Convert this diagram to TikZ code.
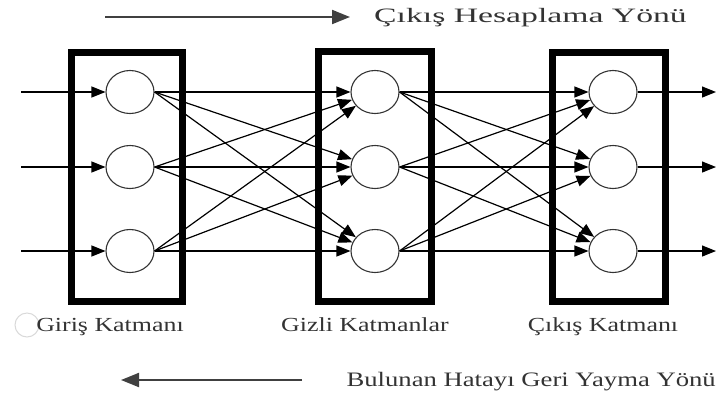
\documentclass[tikz,border=0pt]{standalone}
\usepackage{fontspec}
\setmainfont{Liberation Serif}[FakeStretch=1.3]
\newfontfamily\widefont{Liberation Serif}[FakeStretch=1.65]
\usetikzlibrary{arrows.meta,shapes.geometric}
\tikzset{
  neuron/.style={ellipse, draw=black!80, fill=white, line width=1.1bp,
    minimum width=48bp, minimum height=43bp, inner sep=0pt},
  layerbox/.style={draw, line width=7bp, inner sep=0pt},
  conn/.style={-{Triangle[length=14bp,width=11bp]}, line width=1.2bp},
  dirarrow/.style={-{Triangle[length=18bp,width=14bp]}, line width=2bp, black!75},
  lbl/.style={text=black!80, font=\fontsize{20}{24}\selectfont, inner sep=0pt},
}
\begin{document}
\begin{tikzpicture}[x=1bp,y=-1bp]
  \useasboundingbox (0,0) rectangle (718,396);
  \node[layerbox, minimum width=111bp, minimum height=249bp] (giris) at (127,177) {};
  \node[layerbox, minimum width=113bp, minimum height=250bp] (gizli) at (375,176) {};
  \node[layerbox, minimum width=113bp, minimum height=249bp] (cikis) at (609,176.5) {};
  \foreach \n/\y in {1/92,2/167,3/251} {
    \node[neuron] (i\n) at (130,\y) {};
    \node[neuron] (h\n) at (375,\y) {};
    \node[neuron] (o\n) at (613,\y) {};
    \coordinate (in\n) at (21,\y);
    \coordinate (out\n) at (716,\y);
    \draw[conn] (in\n) -- (i\n);
    \draw[conn] (o\n) -- (out\n);
  }
  \foreach \a in {1,2,3} \foreach \b in {1,2,3} {
    \draw[conn] (i\a.east) -- (h\b);
    \draw[conn] (h\a.east) -- (o\b);
  }
  \coordinate (fwdA) at (105,17);
  \coordinate (fwdB) at (350,17);
  \draw[dirarrow] (fwdA) -- (fwdB);
  \node[lbl, font=\widefont\fontsize{20.5}{24}\selectfont, anchor=base west] (fwd) at (374,22) {Çıkış Hesaplama Yönü};
  \node[circle, draw=black!15, line width=1bp, minimum size=24bp, inner sep=0pt] (blot) at (27,325) {};
  \node[lbl, anchor=base] (t1) at (110,331) {Giriş Katmanı};
  \node[lbl, anchor=base] (t2) at (365,331) {Gizli Katmanlar};
  \node[lbl, anchor=base] (t3) at (603,331) {Çıkış Katmanı};
  \coordinate (backA) at (302,380);
  \coordinate (backB) at (121,380);
  \draw[dirarrow] (backA) -- (backB);
  \node[lbl, font=\fontsize{20.6}{24}\selectfont, anchor=base east] (back) at (716,386) {Bulunan Hatayı Geri Yayma Yönü};
\end{tikzpicture}
\end{document}
